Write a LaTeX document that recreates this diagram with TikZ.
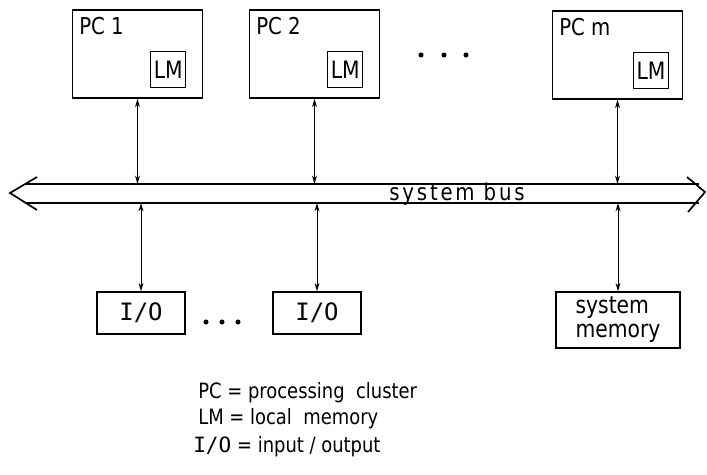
\documentclass[tikz,border=0pt]{standalone}
\usepackage{fontspec}
\setmainfont{DejaVu Sans}[FakeStretch=0.85]
\newfontfamily\busfont{DejaVu Sans}[FakeStretch=0.85,LetterSpace=12]
\newfontfamily\iofont{DejaVu Sans Mono}
\usetikzlibrary{arrows.meta}

\begin{document}
\begin{tikzpicture}[x=0.025cm,y=-0.025cm,>={Stealth[length=6pt,width=3.5pt]},
  pc box/.style={draw,line width=1pt,minimum width=3.25cm,minimum height=2.2cm,inner sep=0pt},
  lm box/.style={draw,line width=1pt,minimum width=0.875cm,minimum height=0.9cm,inner sep=0pt,font=\fontsize{17}{17}\selectfont},
  pc label/.style={anchor=north west,inner sep=0pt,font=\fontsize{16.5}{16.5}\selectfont},
  io box/.style={draw,line width=1pt,minimum width=2.2cm,minimum height=1.05cm,inner sep=0pt,font=\iofont\fontsize{17}{17}\selectfont},
  link/.style={<->,line width=0.7pt},
  bus line/.style={line width=1.2pt},
  legend/.style={anchor=west,inner sep=0pt,font=\fontsize{15}{17}\selectfont}]

\useasboundingbox (0,0) rectangle (707,474);

% processing clusters
\node[pc box] (pc1) at (137.5,54) {};
\node[pc box] (pc2) at (314.5,54) {};
\node[pc box] (pcm) at (617.5,55) {};
\node[pc label] (pc1 name) at ([shift={(0.18cm,-0.2cm)}]pc1.north west) {PC 1};
\node[pc label] (pc2 name) at ([shift={(0.18cm,-0.2cm)}]pc2.north west) {PC 2};
\node[pc label] (pcm name) at ([shift={(0.18cm,-0.2cm)}]pcm.north west) {PC m};
\node[lm box,anchor=south east] (lm1) at ([shift={(-0.42cm,0.26cm)}]pc1.south east) {LM};
\node[lm box,anchor=south east] (lm2) at ([shift={(-0.42cm,0.26cm)}]pc2.south east) {LM};
\node[lm box,anchor=south east] (lmm) at ([shift={(-0.35cm,0.26cm)}]pcm.south east) {LM};
\fill (421,55) circle (1.8pt) (444,55) circle (1.8pt) (466,55) circle (1.8pt);

% system bus
\coordinate (bus west) at (10,193);
\coordinate (bus east) at (705,192);
\coordinate (bus top) at (0,184);
\coordinate (bus bot) at (0,203);
\draw[bus line] (37,177) -- (bus west) -- (37,210);
\draw[bus line] (687,177) -- (bus east) -- (688,212);
\draw[bus line] (25,184) -- (699,184);
\draw[bus line] (26,203) -- (699,203);
\node[inner sep=0pt,font=\busfont\fontsize{16.5}{16.5}\selectfont] (bus label) at (457,194) {system bus};

% i/o and memory
\node[io box] (io1) at (141,313) {I/O};
\node[io box] (io2) at (317,313) {I/O};
\fill (206,322) circle (1.8pt) (222,322) circle (1.8pt) (238,322) circle (1.8pt);
\node[draw,line width=1pt,minimum width=3.1cm,minimum height=1.4cm,inner sep=0pt,align=left,font=\fontsize{17}{17}\selectfont] (sysmem) at (618,320) {system\\memory};

% links to the bus
\coordinate (t1) at (pc1.south |- bus top);
\coordinate (t2) at (pc2.south |- bus top);
\coordinate (tm) at (pcm.south |- bus top);
\coordinate (b1) at (io1.north |- bus bot);
\coordinate (b2) at (io2.north |- bus bot);
\coordinate (bm) at (sysmem.north |- bus bot);
\draw[link] (pc1) -- (t1);
\draw[link] (pc2) -- (t2);
\draw[link] (pcm) -- (tm);
\draw[link] (b1) -- (io1);
\draw[link] (b2) -- (io2);
\draw[link] (bm) -- (sysmem);

% legend
\node[legend] (key pc) at (198,393) {PC = processing \ cluster};
\node[legend] (key lm) at (198,419) {LM = local \ memory};
\node[legend] (key io) at (193,447) {{\iofont I/O} = input / output};
\end{tikzpicture}
\end{document}
